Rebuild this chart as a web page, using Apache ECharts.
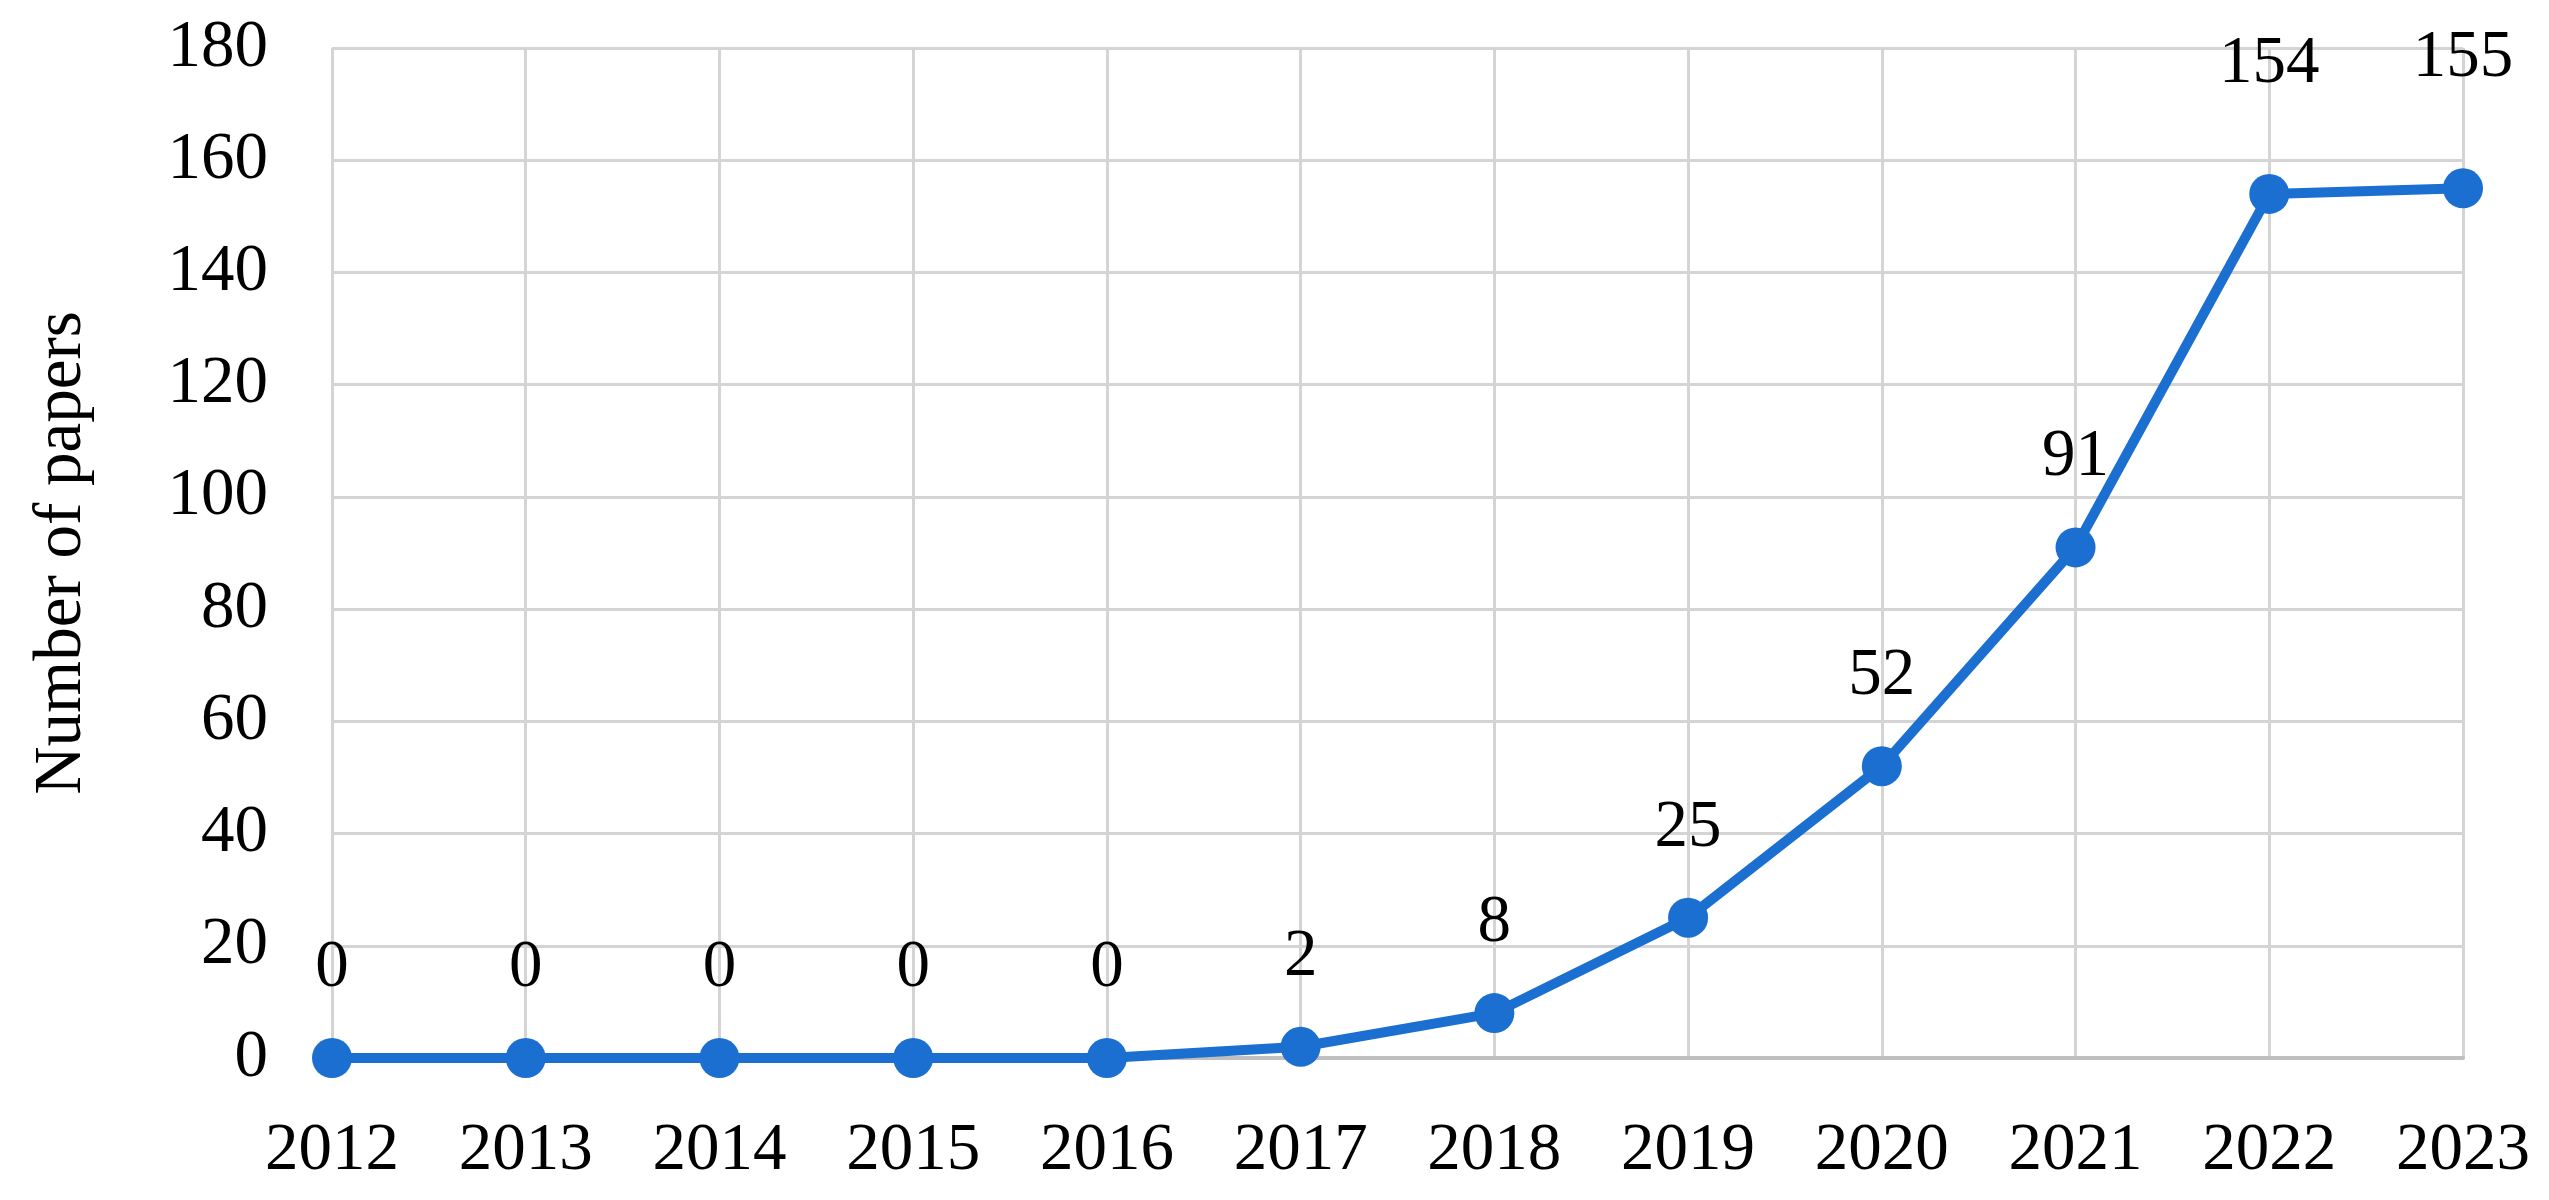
<!DOCTYPE html>
<html>
<head>
<meta charset="utf-8">
<script src="https://cdn.jsdelivr.net/npm/echarts@6/dist/echarts.min.js"></script>
<style>
html,body{margin:0;padding:0;background:#fff;}
#chart{width:2549px;height:1200px;}
</style>
</head>
<body>
<div id="chart"></div>
<script>
const years = ['2012','2013','2014','2015','2016','2017','2018','2019','2020','2021','2022','2023'];
const papers = [0, 0, 0, 0, 0, 2, 8, 25, 52, 91, 154, 155];
const yTicks = { min: 0, max: 180, interval: 20 };
const yTitle = 'Number of papers';

const FONT = 'Liberation Serif';
const chart = echarts.init(document.getElementById('chart'), null, { renderer: 'canvas' });

const seriesData = papers.map(function (v) {
  return { value: v, label: { distance: v >= 150 ? 76 : 36 } };
});

chart.setOption({
  backgroundColor: '#ffffff',
  animation: false,
  grid: { left: 332, right: 86, top: 48, bottom: 142, containLabel: false },
  xAxis: {
    type: 'category',
    data: years,
    boundaryGap: false,
    axisLine: { show: true, lineStyle: { color: '#bfbfbf', width: 4 } },
    axisTick: { show: false },
    axisLabel: { color: '#000', fontFamily: FONT, fontSize: 67, margin: 60 },
    splitLine: { show: true, lineStyle: { color: '#d4d4d4', width: 3 } }
  },
  yAxis: {
    type: 'value',
    min: yTicks.min,
    max: yTicks.max,
    interval: yTicks.interval,
    name: yTitle,
    nameLocation: 'middle',
    nameRotate: 90,
    nameGap: 236,
    nameTextStyle: { color: '#000', fontFamily: FONT, fontSize: 67 },
    axisLine: { show: false },
    axisTick: { show: false },
    axisLabel: { color: '#000', fontFamily: FONT, fontSize: 67, margin: 64 },
    splitLine: { show: true, lineStyle: { color: '#d4d4d4', width: 3 } }
  },
  series: [{
    type: 'line',
    data: seriesData,
    symbol: 'circle',
    symbolSize: 40,
    lineStyle: { color: '#1b6fd1', width: 10 },
    itemStyle: { color: '#1b6fd1' },
    label: {
      show: true,
      position: 'top',
      color: '#000',
      fontFamily: FONT,
      fontSize: 67
    }
  }]
});
</script>
</body>
</html>
